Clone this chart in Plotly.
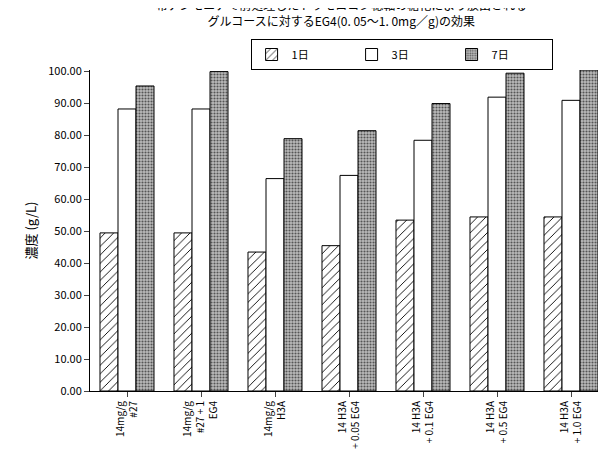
import plotly.graph_objects as go

categories = ["14mg/g<br>#27", "14mg/g<br>#27 + 1<br>EG4", "14mg/g<br>H3A",
              "14 H3A<br>+ 0.05 EG4", "14 H3A<br>+ 0.1 EG4", "14 H3A<br>+ 0.5 EG4",
              "14 H3A<br>+ 1.0 EG4"]
day1 = [49.5, 49.5, 43.5, 45.5, 53.5, 54.5, 54.5]
day3 = [88.3, 88.3, 66.5, 67.5, 78.5, 92.0, 91.0]
day7 = [95.5, 100.0, 79.0, 81.5, 90.0, 99.5, 100.5]

font = "Noto Sans CJK JP"
fig = go.Figure()
fig.add_trace(go.Bar(x=categories, y=day1, name="1日",
                     marker=dict(color="white", line=dict(color="black", width=1),
                                 pattern=dict(shape="/", fgcolor="black", size=6, solidity=0.15))))
fig.add_trace(go.Bar(x=categories, y=day3, name="3日",
                     marker=dict(color="white", line=dict(color="black", width=1))))
fig.add_trace(go.Bar(x=categories, y=day7, name="7日",
                     marker=dict(color="#a8a8a8", line=dict(color="black", width=1),
                                 pattern=dict(shape=".", fgcolor="#555555", bgcolor="#bbbbbb",
                                              size=3, solidity=0.4))))

fig.update_layout(
    width=606, height=465, template="none",
    font=dict(family=font, size=11, color="black"),
    title=dict(text="希アンモニアで前処理したトウモロコシ穂軸の糖化により放出される<br>グルコースに対するEG4(0. 05～1. 0mg／g)の効果",
               x=0.55, xanchor="center", y=0.995, yanchor="top", yref="container",
               font=dict(size=12)),
    margin=dict(l=82, r=6, t=62, b=82),
    bargap=0.27, bargroupgap=0,
    plot_bgcolor="white", paper_bgcolor="white",
    legend=dict(orientation="h", x=0.31, y=1.0, xanchor="left", yanchor="bottom",
                entrywidth=55, bordercolor="black", borderwidth=1, font=dict(size=11)),
)
fig.update_xaxes(tickangle=-90, showline=True, linecolor="black", ticks="outside",
                 showgrid=False, tickfont=dict(size=10))
fig.update_yaxes(range=[0, 100.5], dtick=10, tickformat=".2f", showline=True, linecolor="black",
                 ticks="outside", showgrid=False, title=dict(text="濃度 (g/L)", standoff=8))
fig.write_html("out.html")
